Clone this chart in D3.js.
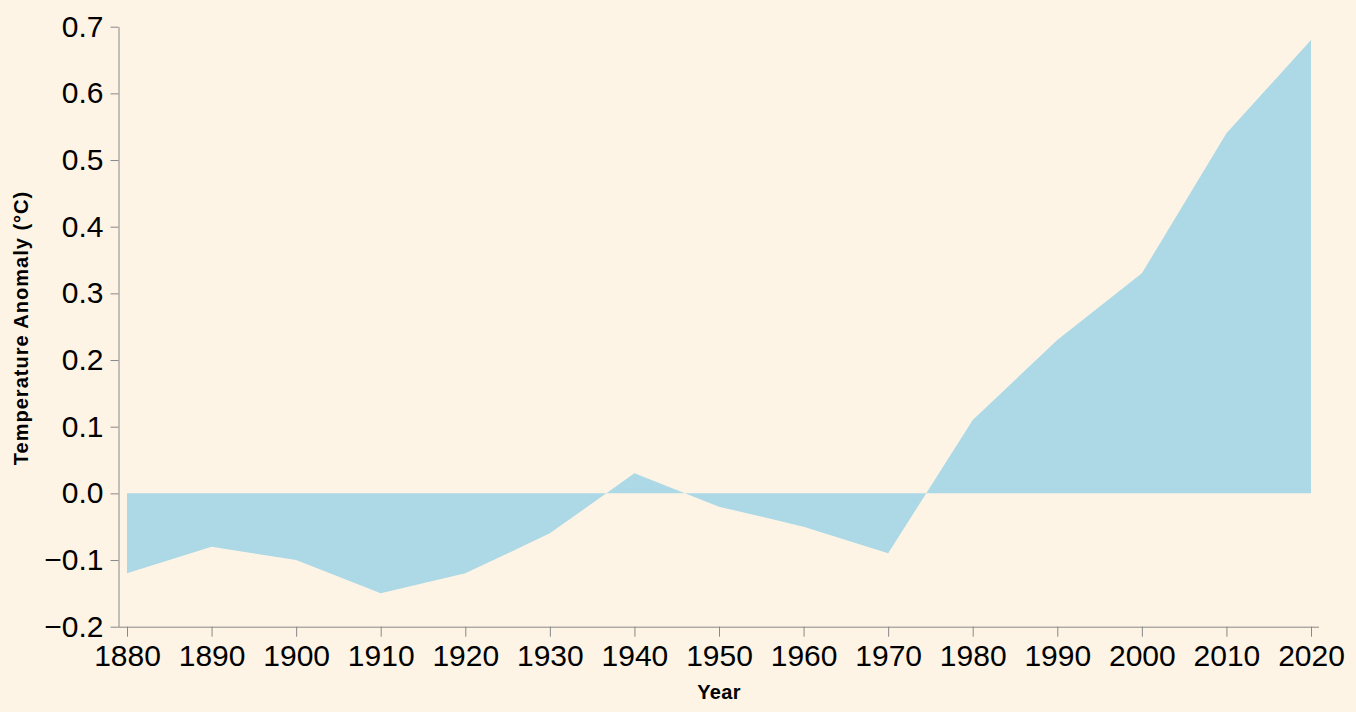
<!DOCTYPE html>
<html>
<head>
<meta charset="utf-8">
<script src="https://cdn.jsdelivr.net/npm/d3@7"></script>
<style>
  html, body { margin: 0; padding: 0; background: #fdf4e6; }
  text { font-family: "Liberation Sans", Arial, sans-serif; }
</style>
</head>
<body>
<div id="chartArea"></div>
<script>
// data
const years = [1880, 1890, 1900, 1910, 1920, 1930, 1940, 1950, 1960, 1970, 1980, 1990, 2000, 2010, 2020];
const anomaly = [-0.12, -0.08, -0.10, -0.15, -0.12, -0.06, 0.03, -0.02, -0.05, -0.09, 0.11, 0.23, 0.33, 0.54, 0.68];
const yTicks = [-0.2, -0.1, 0.0, 0.1, 0.2, 0.3, 0.4, 0.5, 0.6, 0.7];

//colors
bg = "#fdf4e6";
fillBlue = "#add8e6";
axisGrey = "#888888";

const W = 1356, H = 712;

const svg = d3.select("#chartArea").append("svg")
  .attr("width", W)
  .attr("height", H)
  .style("display", "block")
  .style("background", bg);

const x = d3.scaleLinear().domain([1880, 2020]).range([127, 1311]);
const y = d3.scaleLinear().domain([-0.2, 0.7]).range([626.7, 26.7]);

const data = years.map((yr, i) => ({ year: yr, value: anomaly[i] }));

// area between zero and value
const area = d3.area()
  .x(d => x(d.year))
  .y0(y(0))
  .y1(d => y(d.value));

svg.append("path")
  .datum(data)
  .attr("d", area)
  .attr("fill", fillBlue);

// x axis
const xAxis = svg.append("g")
  .attr("transform", `translate(0,${y(-0.2)})`)
  .call(d3.axisBottom(x).tickValues(years).tickFormat(d3.format("d")).tickSize(10).tickSizeOuter(0).tickPadding(8));
xAxis.select(".domain").attr("d", "M118.5,0.5H1319").attr("stroke", axisGrey);
xAxis.selectAll(".tick line").attr("stroke", axisGrey);
xAxis.selectAll(".tick text")
  .attr("font-size", "30px")
  .attr("font-family", "Liberation Sans, Arial, sans-serif")
  .attr("fill", "#000");

// y axis
const yAxis = svg.append("g")
  .attr("transform", "translate(118.5,0)")
  .call(d3.axisLeft(y).tickValues(yTicks).tickFormat(d3.format(".1f")).tickSize(8).tickSizeOuter(0).tickPadding(7));
yAxis.select(".domain").attr("stroke", axisGrey);
yAxis.selectAll(".tick line").attr("stroke", axisGrey);
yAxis.selectAll(".tick text")
  .attr("font-size", "30px")
  .attr("font-family", "Liberation Sans, Arial, sans-serif")
  .attr("fill", "#000");

// axis titles
svg.append("text")
  .attr("x", 719)
  .attr("y", 699)
  .attr("text-anchor", "middle")
  .attr("font-size", "20px")
  .attr("letter-spacing", "0.3px")
  .attr("font-weight", "bold")
  .attr("fill", "#000")
  .text("Year");

svg.append("text")
  .attr("transform", "translate(28,328) rotate(-90)")
  .attr("text-anchor", "middle")
  .attr("font-size", "20px")
  .attr("letter-spacing", "1px")
  .attr("font-weight", "bold")
  .attr("fill", "#000")
  .text("Temperature Anomaly (°C)");
</script>
</body>
</html>
